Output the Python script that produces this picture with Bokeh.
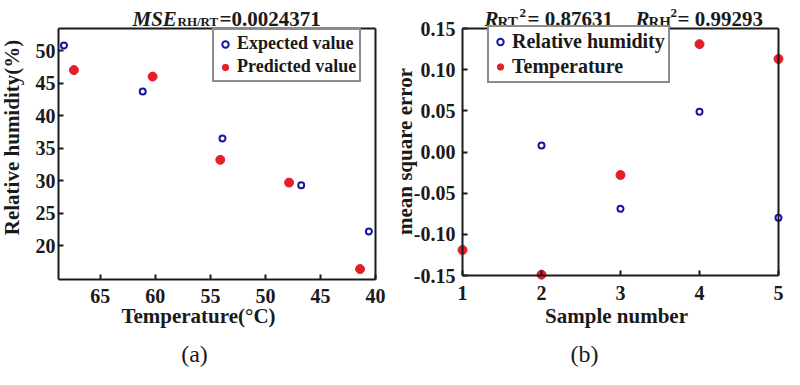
import math
from bokeh.plotting import figure
from bokeh.models import (Label, Legend, LegendItem, FixedTicker, NumeralTickFormatter,
                          Range1d, LinearAxis)
from bokeh.layouts import row
from bokeh.embed import file_html
from bokeh.resources import INLINE

# ---------------- data ----------------
# panel (a)
temp_expected = [68.3, 61.15, 53.9, 46.75, 40.6]
rh_expected = [50.8, 43.7, 36.5, 29.3, 22.2]
temp_predicted = [67.4, 60.25, 54.1, 47.85, 41.4]
rh_predicted = [47.0, 46.0, 33.2, 29.7, 16.4]
temp_ticks = [40, 45, 50, 55, 60, 65]
rh_ticks = [20, 25, 30, 35, 40, 45, 50]
temp_limits = [68.8, 40]      # left, right (axis reversed)
rh_limits = [14.8, 53.4]      # bottom, top

# panel (b)
sample_rh = [2, 3, 4, 5]
mse_rh = [0.008, -0.069, 0.049, -0.080]
sample_temp = [1, 2, 3, 4, 5]
mse_temp = [-0.119, -0.149, -0.028, 0.131, 0.113]
sample_ticks = [1, 2, 3, 4, 5]
mse_ticks = [-0.15, -0.10, -0.05, 0.0, 0.05, 0.10, 0.15]
sample_limits = [1, 5]
mse_limits = [-0.15, 0.15]

BLUE = "#1414a6"
RED = "#e3202a"
INK = "#1a1a1a"
FONT = "Liberation Serif"
W, H = 392, 369
MARGIN = 8   # page margin: figure (a) starts at window x=8, y=8


def span(v0, v1, p0, p1, total):
    """Range whose ends sit at pixel 0 and `total`, with v0 at p0 and v1 at p1."""
    k = (v1 - v0) / (p1 - p0)
    return Range1d(v0 - p0 * k, v0 + (total - p0) * k)


def make_fig(xlim, ylim, box):
    left, right, top, bottom = box  # pixel positions of the axes box in the figure
    p = figure(width=W, height=H, output_backend="svg", toolbar_location=None,
               x_range=span(xlim[0], xlim[1], left, right, W),
               y_range=span(ylim[0], ylim[1], H - bottom, H - top, H),
               min_border=0, x_axis_type=None, y_axis_type=None)
    p.xgrid.visible = False
    p.ygrid.visible = False
    p.outline_line_color = None
    p.background_fill_color = "white"
    p.border_fill_color = "white"
    xb = (min(xlim), max(xlim))
    yb = (min(ylim), max(ylim))
    axes = {
        "below": LinearAxis(fixed_location=ylim[0], bounds=xb),
        "left": LinearAxis(fixed_location=xlim[0], bounds=yb),
        "above": LinearAxis(fixed_location=ylim[1], bounds=xb, ticker=FixedTicker(ticks=[])),
        "right": LinearAxis(fixed_location=xlim[1], bounds=yb, ticker=FixedTicker(ticks=[])),
    }
    for side, ax in axes.items():
        ax.axis_line_color = INK
        ax.axis_line_width = 2
        ax.major_tick_in = 5
        ax.major_tick_out = 0
        ax.major_tick_line_color = INK
        ax.major_tick_line_width = 2
        ax.minor_tick_line_color = None
        ax.major_label_text_font = FONT
        ax.major_label_text_font_style = "bold"
        ax.major_label_text_font_size = "20px"
        ax.major_label_text_color = INK
        p.add_layout(ax, side)
    return p, axes


def add_text(p, ox, px, py, text, size="21px", style="bold", align="left",
             baseline="alphabetic", angle=0.0):
    """Place a text at window pixel (px, py); ox is the window x of the figure."""
    p.add_layout(Label(x=px - ox, y=H - (py - MARGIN), x_units="screen", y_units="screen",
                       text=text, text_font=FONT, text_font_size=size,
                       text_font_style=style, text_color=INK, text_align=align,
                       text_baseline=baseline, angle=angle))


def style_legend(leg, size, row_h):
    leg.border_line_color = INK
    leg.border_line_width = 2
    leg.label_text_font = FONT
    leg.label_text_font_style = "bold"
    leg.label_text_font_size = size
    leg.label_text_color = INK
    leg.glyph_width = 16
    leg.glyph_height = row_h
    leg.label_height = row_h
    leg.label_standoff = 4
    leg.padding = 3
    leg.spacing = 2
    leg.margin = 0
    leg.background_fill_alpha = 1


# ---------------- panel (a) ----------------
OXA = MARGIN
pa, axa = make_fig(temp_limits, rh_limits, (66 - OXA, 383 - OXA, 36 - MARGIN, 287 - MARGIN))
axa["below"].ticker = FixedTicker(ticks=temp_ticks)
axa["left"].ticker = FixedTicker(ticks=rh_ticks)
axa["below"].major_label_standoff = 9
axa["left"].major_label_standoff = 3

ra1 = pa.scatter(temp_expected, rh_expected, marker="circle", size=6,
                 fill_color=None, line_color=BLUE, line_width=2)
ra2 = pa.scatter(temp_predicted, rh_predicted, marker="circle", size=9,
                 fill_color=RED, line_color=RED, line_width=1)

leg_a = Legend(items=[LegendItem(label="Expected value", renderers=[ra1]),
                      LegendItem(label="Predicted value", renderers=[ra2])],
               location=(220 - OXA, H - (90 - MARGIN)))
style_legend(leg_a, "18px", 20)
pa.add_layout(leg_a)

add_text(pa, OXA, 19, 145, "Relative humidity(%)", align="center",
         baseline="middle", angle=math.pi / 2)
add_text(pa, OXA, 206, 323, "Temperature(°C)", align="center", baseline="middle")
add_text(pa, OXA, 202, 361, "(a)", size="24px", style="normal", align="center")
add_text(pa, OXA, 140, 26, "MSE", style="bold italic")
add_text(pa, OXA, 185, 29, "RH/RT", size="13px")
add_text(pa, OXA, 227, 26, "=0.0024371")

# ---------------- panel (b) ----------------
OXB = 400
pb, axb = make_fig(sample_limits, mse_limits, (470 - OXB, 786 - OXB, 36 - MARGIN, 283 - MARGIN))
axb["below"].ticker = FixedTicker(ticks=sample_ticks)
axb["left"].ticker = FixedTicker(ticks=mse_ticks)
axb["left"].formatter = NumeralTickFormatter(format="0.00")
axb["below"].major_label_standoff = 10
axb["left"].major_label_standoff = 7

rb1 = pb.scatter(sample_rh, mse_rh, marker="circle", size=6,
                 fill_color=None, line_color=BLUE, line_width=2)
rb2 = pb.scatter(sample_temp, mse_temp, marker="circle", size=9,
                 fill_color=RED, line_color=RED, line_width=1)

leg_b = Legend(items=[LegendItem(label="Relative humidity", renderers=[rb1]),
                      LegendItem(label="Temperature", renderers=[rb2])],
               location=(495 - OXB, H - (91 - MARGIN)))
style_legend(leg_b, "20px", 21)
pb.add_layout(leg_b)

add_text(pb, OXB, 412, 159, "mean square error", align="center",
         baseline="middle", angle=math.pi / 2)
add_text(pb, OXB, 624, 323, "Sample number", align="center", baseline="middle")
add_text(pb, OXB, 592, 361, "(b)", size="24px", style="normal", align="center")
add_text(pb, OXB, 492, 26, "R", style="bold italic")
add_text(pb, OXB, 505, 29, "RT", size="15px")
add_text(pb, OXB, 527, 20, "2", size="13px")
add_text(pb, OXB, 535, 26, "= 0.87631")
add_text(pb, OXB, 643, 26, "R", style="bold italic")
add_text(pb, OXB, 656, 29, "RH", size="15px")
add_text(pb, OXB, 678, 20, "2", size="13px")
add_text(pb, OXB, 685, 26, "= 0.99293")

layout = row(pa, pb)
open("out.html", "w").write(file_html(layout, INLINE))
